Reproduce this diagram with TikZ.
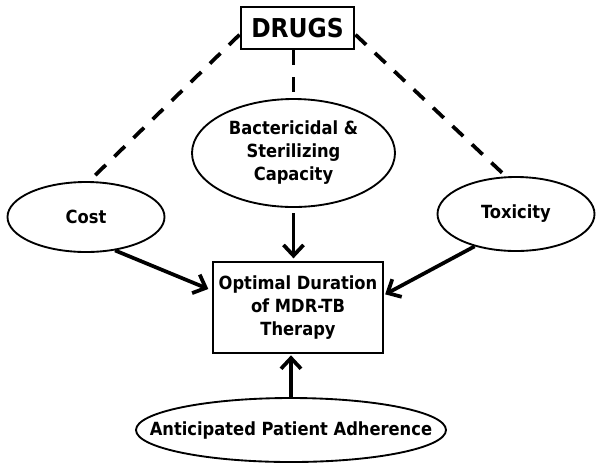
\documentclass[tikz,border=0pt]{standalone}
\usepackage{fontspec}
\setmainfont{DejaVu Sans Condensed}
\usetikzlibrary{shapes.geometric,arrows.meta}

\begin{document}
\begin{tikzpicture}[x=0.75pt, y=-0.75pt,
	blase/.style={draw, ellipse, line width=1.4pt, inner sep=0pt, align=center,
		font=\bfseries\fontsize{13.6}{17.25}\selectfont},
	kasten/.style={draw, rectangle, inner sep=0pt, align=center,
		font=\bfseries\fontsize{13.6}{17.25}\selectfont},
	strich/.style={line width=2.8pt, dash pattern=on 11pt off 9pt},
	pfeil/.style={line width=2.8pt, -{Straight Barb[length=8pt,width=15pt]}}]
	\fill[white] (0,0) rectangle (602,469);
	\useasboundingbox (0,0) rectangle (602,469);
	% Kasten oben
	\node[kasten, line width=2.2pt, minimum width=84.75pt, minimum height=31.5pt,
	font=\bfseries\fontsize{19.5}{22}\selectfont] (drugs) at (297.5,28) {DRUGS};
	% Einflussgroessen
	\node[blase, minimum width=152.25pt, minimum height=81pt] (bakt) at (293.5,153)
	{Bactericidal \&\\Sterilizing\\Capacity};
	\node[blase, minimum width=117.75pt, minimum height=52.5pt] (kosten) at (86,217)
	{Cost};
	\node[blase, minimum width=117.75pt, minimum height=55.5pt] (tox) at (516,214)
	{Toxicity};
	\node[blase, minimum width=232.5pt, minimum height=48pt, inner xsep=-30pt] (adh)
	at (291,430) {Anticipated Patient Adherence};
	% Ziel in der Mitte
	\node[kasten, line width=1.5pt, minimum width=127.5pt, minimum height=68.25pt]
	(dauer) at (298,307.5) {Optimal Duration\\of MDR-TB\\Therapy};
	% gestrichelte Linien
	\draw[strich] ([yshift=-5pt]drugs.west) -- (kosten.85);
	\draw[strich] (bakt.north |- drugs.south) -- (bakt.north);
	\draw[strich] ([yshift=-5pt]drugs.east) -- (tox.105);
	% Pfeile
	\draw[pfeil, shorten <=4pt, shorten >=2pt] (bakt.south) -- (bakt.south |- dauer.north);
	\draw[pfeil, shorten >=3pt] (kosten.-49) -- ([yshift=12.75pt]dauer.west);
	\draw[pfeil, shorten >=1pt] (tox.218) -- ([yshift=9.4pt]dauer.east);
	\draw[pfeil, shorten >=1pt] (adh.north) -- (adh.north |- dauer.south);
\end{tikzpicture}
\end{document}
